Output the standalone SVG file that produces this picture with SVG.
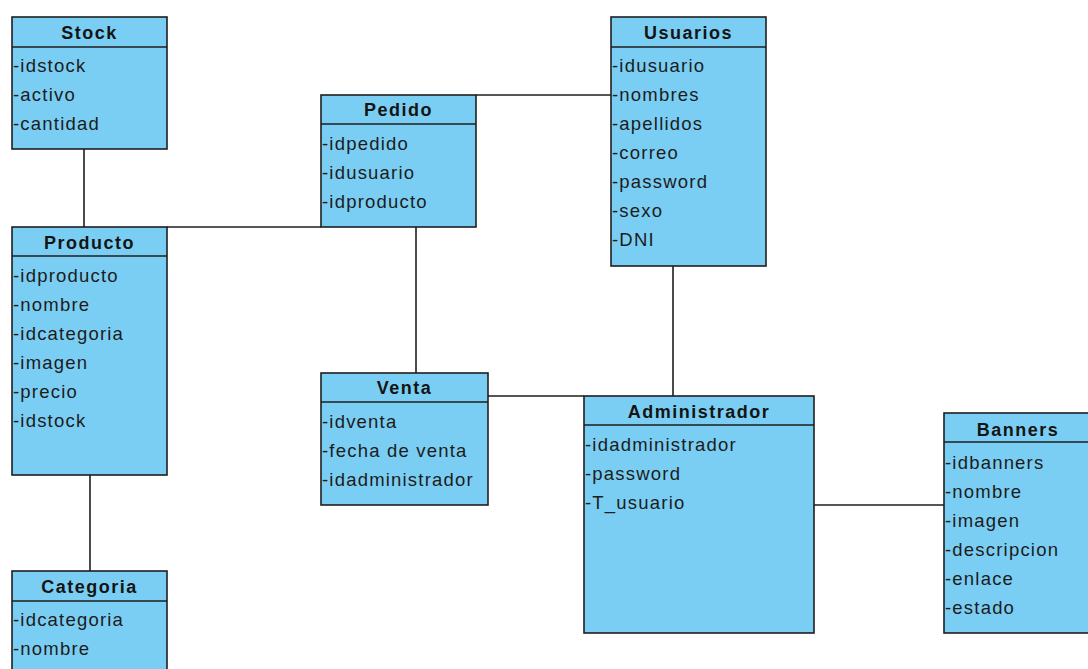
<svg xmlns="http://www.w3.org/2000/svg" width="1088" height="669" viewBox="0 0 1088 669">
  <style>
    .box { fill: #7BCEF3; stroke: #1e1e1e; stroke-width: 1.6; }
    .sep { stroke: #1e1e1e; stroke-width: 1.6; }
    .title { font-family: "Liberation Sans", Arial, sans-serif; font-size: 18px; font-weight: bold; fill: #141414; text-anchor: middle; letter-spacing: 1.5px; }
    .attr { font-family: "Liberation Sans", Arial, sans-serif; font-size: 18.5px; fill: #1c1c1c; letter-spacing: 1.2px; }
    .conn line { stroke: #1e1e1e; stroke-width: 1.6; }
  </style>
  <rect width="1088" height="669" fill="#ffffff"/>

  <!-- connectors -->
  <g id="connectors" class="conn">
    <line x1="84" y1="149" x2="84" y2="227"/>
    <line x1="167" y1="227" x2="321" y2="227"/>
    <line x1="476" y1="95" x2="611" y2="95"/>
    <line x1="416" y1="227" x2="416" y2="373"/>
    <line x1="673" y1="266" x2="673" y2="396"/>
    <line x1="488" y1="396" x2="584" y2="396"/>
    <line x1="814" y1="505" x2="944" y2="505"/>
    <line x1="90" y1="475" x2="90" y2="571"/>
  </g>

  <g id="stock">
    <rect class="box" x="12" y="17" width="155" height="132"/>
    <line class="sep" x1="12" y1="47" x2="167" y2="47"/>
    <text class="title" x="89.5" y="39">Stock</text>
    <text class="attr" x="13" y="72">-idstock</text>
    <text class="attr" x="13" y="101">-activo</text>
    <text class="attr" x="13" y="130">-cantidad</text>
  </g>

  <g id="pedido">
    <rect class="box" x="321" y="95" width="155" height="132"/>
    <line class="sep" x1="321" y1="124" x2="476" y2="124"/>
    <text class="title" x="398.5" y="116">Pedido</text>
    <text class="attr" x="322" y="150">-idpedido</text>
    <text class="attr" x="322" y="179">-idusuario</text>
    <text class="attr" x="322" y="208">-idproducto</text>
  </g>

  <g id="usuarios">
    <rect class="box" x="611" y="17" width="155" height="249"/>
    <line class="sep" x1="611" y1="47" x2="766" y2="47"/>
    <text class="title" x="688.5" y="39">Usuarios</text>
    <text class="attr" x="612" y="72">-idusuario</text>
    <text class="attr" x="612" y="101">-nombres</text>
    <text class="attr" x="612" y="130">-apellidos</text>
    <text class="attr" x="612" y="159">-correo</text>
    <text class="attr" x="612" y="188">-password</text>
    <text class="attr" x="612" y="217">-sexo</text>
    <text class="attr" x="612" y="246">-DNI</text>
  </g>

  <g id="producto">
    <rect class="box" x="12" y="227" width="155" height="248"/>
    <line class="sep" x1="12" y1="256" x2="167" y2="256"/>
    <text class="title" x="89.5" y="249">Producto</text>
    <text class="attr" x="13" y="282">-idproducto</text>
    <text class="attr" x="13" y="311">-nombre</text>
    <text class="attr" x="13" y="340">-idcategoria</text>
    <text class="attr" x="13" y="369">-imagen</text>
    <text class="attr" x="13" y="398">-precio</text>
    <text class="attr" x="13" y="427">-idstock</text>
  </g>

  <g id="venta">
    <rect class="box" x="321" y="373" width="167" height="132"/>
    <line class="sep" x1="321" y1="402" x2="488" y2="402"/>
    <text class="title" x="404.5" y="394">Venta</text>
    <text class="attr" x="322" y="428">-idventa</text>
    <text class="attr" x="322" y="457">-fecha de venta</text>
    <text class="attr" x="322" y="486">-idadministrador</text>
  </g>

  <g id="administrador">
    <rect class="box" x="584" y="396" width="230" height="237"/>
    <line class="sep" x1="584" y1="425" x2="814" y2="425"/>
    <text class="title" x="699" y="418">Administrador</text>
    <text class="attr" x="585" y="451">-idadministrador</text>
    <text class="attr" x="585" y="480">-password</text>
    <text class="attr" x="585" y="509">-T_usuario</text>
  </g>

  <g id="banners">
    <rect class="box" x="944" y="413" width="160" height="220"/>
    <line class="sep" x1="944" y1="442" x2="1104" y2="442"/>
    <text class="title" x="1018" y="436">Banners</text>
    <text class="attr" x="945" y="469">-idbanners</text>
    <text class="attr" x="945" y="498">-nombre</text>
    <text class="attr" x="945" y="527">-imagen</text>
    <text class="attr" x="945" y="556">-descripcion</text>
    <text class="attr" x="945" y="585">-enlace</text>
    <text class="attr" x="945" y="614">-estado</text>
  </g>

  <g id="categoria">
    <rect class="box" x="12" y="571" width="155" height="110"/>
    <line class="sep" x1="12" y1="601" x2="167" y2="601"/>
    <text class="title" x="89.5" y="593">Categoria</text>
    <text class="attr" x="13" y="626">-idcategoria</text>
    <text class="attr" x="13" y="655">-nombre</text>
  </g>
</svg>
